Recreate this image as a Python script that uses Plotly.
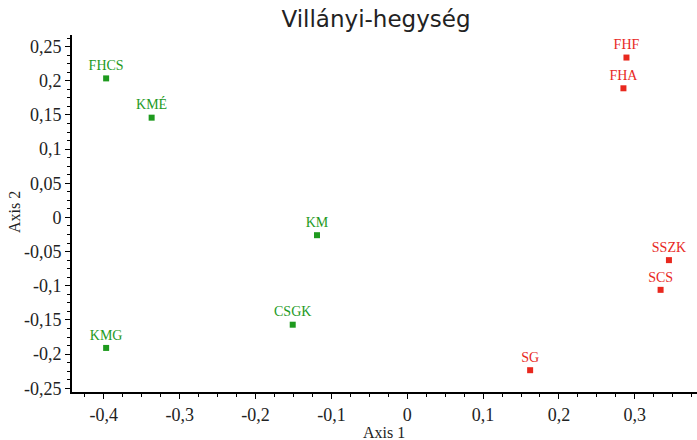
import plotly.graph_objects as go

green_labels = ["FHCS", "KMÉ", "KM", "CSGK", "KMG"]
green_x = [-0.397, -0.337, -0.119, -0.151, -0.397]
green_y = [0.2035, 0.146, -0.026, -0.157, -0.191]

red_labels = ["FHF", "FHA", "SSZK", "SCS", "SG"]
red_x = [0.289, 0.285, 0.345, 0.334, 0.162]
red_y = [0.234, 0.189, -0.0625, -0.106, -0.2236]

x_ticks = [-0.4, -0.3, -0.2, -0.1, 0, 0.1, 0.2, 0.3]
y_ticks = [-0.25, -0.2, -0.15, -0.1, -0.05, 0, 0.05, 0.1, 0.15, 0.2, 0.25]

GREEN = "#1e9a1e"
RED = "#e8281e"
serif = "Liberation Serif, Times New Roman, serif"

fig = go.Figure()
for xs, ys, labs, col in [(green_x, green_y, green_labels, GREEN), (red_x, red_y, red_labels, RED)]:
    fig.add_trace(go.Scatter(
        x=xs, y=ys, text=labs, mode="markers+text", textposition="top center",
        marker=dict(symbol="square", size=6, color=col, line=dict(width=0)),
        textfont=dict(family=serif, size=14, color=col),
        showlegend=False, cliponaxis=False, hoverinfo="skip"))

axis_common = dict(
    showgrid=False, zeroline=False, showline=True, linecolor="black", linewidth=2,
    ticks="outside", ticklen=5, tickwidth=1, tickcolor="black", automargin=False,
    tickfont=dict(family=serif, size=18, color="#222"),
    minor=dict(ticks="outside", ticklen=3, tickwidth=1, tickcolor="black"),
)

L, R, T, B = 72, 0, 35, 48
PH = 440 - T - B
PW = 697 - L - R

fig.update_layout(
    width=697, height=440,
    margin=dict(l=L, r=R, t=T, b=B),
    plot_bgcolor="white", paper_bgcolor="white",
    separators=", ",
    title=dict(text="Villányi-hegység", x=376/697, xanchor="center", y=1 - 19/440, yanchor="middle",
               font=dict(family="DejaVu Sans", size=23, color="#222")),
    xaxis=dict(range=[-0.442, 0.382], tickvals=x_ticks,
               ticktext=[("%g" % v).replace(".", ",") for v in x_ticks], **axis_common),
    yaxis=dict(range=[-0.2555, 0.267], tickvals=y_ticks,
               ticktext=[("%g" % v).replace(".", ",") for v in y_ticks], **axis_common),
)
fig.update_xaxes(minor=dict(dtick=0.025, tick0=0))
fig.update_yaxes(minor=dict(dtick=0.0125, tick0=0))

fig.add_annotation(text="Axis 1", x=(384 - L)/PW, y=-(432 - (440 - B))/PH, xref="paper", yref="paper",
                   showarrow=False, font=dict(family=serif, size=16, color="#222"), yanchor="middle")
fig.add_annotation(text="Axis 2", x=-(L - 14)/PW, y=(392 - 212)/PH, xref="paper", yref="paper", textangle=-90,
                   showarrow=False, font=dict(family=serif, size=16, color="#222"),
                   xanchor="center", yanchor="middle")

fig.write_html("out.html", config={"displayModeBar": False},
               post_script="document.body.style.margin='0';document.body.style.overflow='hidden';")
